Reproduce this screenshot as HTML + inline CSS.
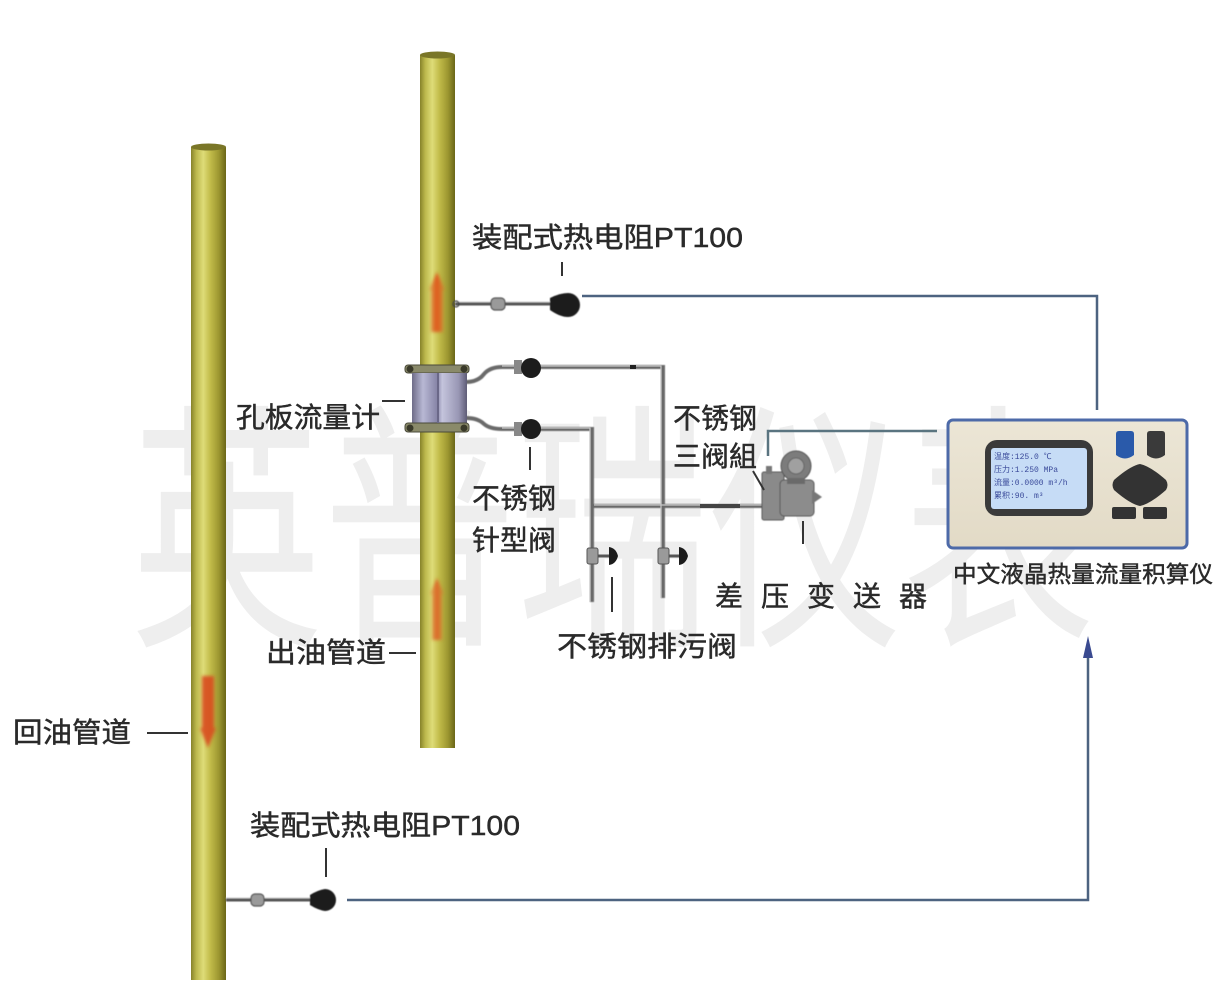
<!DOCTYPE html>
<html><head><meta charset="utf-8">
<style>
html,body{margin:0;padding:0;background:#fff;}
body{width:1231px;height:984px;overflow:hidden;}
svg{display:block;}
.lb{font-family:"Liberation Sans","Noto Sans CJK SC",sans-serif;fill:#2a2a2a;stroke:#2a2a2a;stroke-width:0.45px;font-size:28px;}
</style></head>
<body>
<svg width="1231" height="984" viewBox="0 0 1231 984" xmlns="http://www.w3.org/2000/svg">
<defs>
<linearGradient id="pipe" x1="0" y1="0" x2="1" y2="0">
<stop offset="0" stop-color="#86822a"/>
<stop offset="0.15" stop-color="#bcb84c"/>
<stop offset="0.35" stop-color="#dedc78"/>
<stop offset="0.55" stop-color="#c2bc4a"/>
<stop offset="0.8" stop-color="#9c9630"/>
<stop offset="1" stop-color="#6a6618"/>
</linearGradient>
<linearGradient id="body" x1="0" y1="0" x2="1" y2="0">
<stop offset="0" stop-color="#6e6c88"/>
<stop offset="0.2" stop-color="#b8b8d4"/>
<stop offset="0.45" stop-color="#8886a8"/>
<stop offset="0.55" stop-color="#c4c4dc"/>
<stop offset="0.85" stop-color="#9896b4"/>
<stop offset="1" stop-color="#5e5c76"/>
</linearGradient>
<linearGradient id="orange" x1="0" y1="0" x2="1" y2="0">
<stop offset="0" stop-color="#d8702a" stop-opacity="0.5"/>
<stop offset="0.5" stop-color="#e0561c"/>
<stop offset="1" stop-color="#d8702a" stop-opacity="0.5"/>
</linearGradient>
<linearGradient id="inst" x1="0" y1="0" x2="0" y2="1">
<stop offset="0" stop-color="#ece6d6"/>
<stop offset="1" stop-color="#e2dac6"/>
</linearGradient>
<filter id="blur1"><feGaussianBlur stdDeviation="1.6"/></filter>
<filter id="blur05"><feGaussianBlur stdDeviation="0.5"/></filter>
</defs>

<!-- watermark -->
<text x="130" y="626" font-family="'Noto Sans CJK SC','WenQuanYi Zen Hei',sans-serif" font-size="262" fill="#eeeeee" textLength="965" lengthAdjust="spacingAndGlyphs">英普瑞仪表</text>

<!-- signal lines -->
<g stroke="#4d6380" stroke-width="2.5" fill="none">
<polyline points="582,296 1097,296 1097,410"/>
<polyline points="347,900 1088,900 1088,655"/>
<polyline points="768,456 768,431 937,431" stroke="#5a7480"/>
</g>
<polygon points="1088,636 1083,658 1093,658" fill="#3a4a90"/>

<!-- pipes -->
<rect x="420" y="55" width="35" height="693" fill="url(#pipe)"/>
<ellipse cx="437.5" cy="55" rx="17.5" ry="3.5" fill="#7a7628"/>
<rect x="191" y="147" width="35" height="833" fill="url(#pipe)"/>
<ellipse cx="208.5" cy="147" rx="17.5" ry="3.5" fill="#7a7628"/>

<!-- flow arrows -->
<g filter="url(#blur1)">
<path d="M437,272 L445,290 L443,290 L443,332 L431,332 L431,290 L429,290 Z" fill="url(#orange)"/>
<path d="M437,578 L444,594 L442,594 L442,640 L432,640 L432,594 L430,594 Z" fill="url(#orange)" opacity="0.85"/>
<path d="M208,748 L200,728 L202,728 L202,676 L214,676 L214,728 L216,728 Z" fill="#d84a1c" opacity="0.9"/>
</g>

<!-- upper PT100 branch -->
<g filter="url(#blur05)">
<line x1="455" y1="304" x2="556" y2="304" stroke="#555" stroke-width="3"/>
<line x1="455" y1="302" x2="556" y2="302" stroke="#ccc" stroke-width="1"/>
<rect x="491" y="298" width="14" height="12" rx="4" fill="#9a9a9a" stroke="#555" stroke-width="1.2"/>
<circle cx="456" cy="304" r="3" fill="none" stroke="#444" stroke-width="1.2"/>
<path d="M550,298 Q560,293 568,293 A12,12 0 1 1 568,317 Q560,317 550,310 Z" fill="#1c1c1c"/>
</g>

<!-- lower PT100 branch -->
<g filter="url(#blur05)">
<line x1="226" y1="900" x2="312" y2="900" stroke="#555" stroke-width="3"/>
<line x1="226" y1="898" x2="312" y2="898" stroke="#ccc" stroke-width="1"/>
<rect x="251" y="894" width="13" height="12" rx="4" fill="#9a9a9a" stroke="#555" stroke-width="1.2"/>
<path d="M310,895 Q318,890 325,889 A11,11 0 1 1 325,911 Q318,910 310,905 Z" fill="#1c1c1c"/>
</g>

<!-- impulse lines -->
<g fill="none" stroke="#6a6a6a" stroke-width="4" filter="url(#blur05)">
<path d="M466,382 Q478,382 484,374 Q490,367 502,367 L663,367 L663,598"/>
<path d="M466,418 Q478,418 484,424 Q490,429 502,429 L592,429 L592,602"/>
<path d="M592,506 L765,506"/>
</g>
<g fill="none" stroke="#c8c8c8" stroke-width="1.2">
<path d="M502,366 L661,366 L661,598"/>
<path d="M502,428 L590,428 L590,602"/>
<path d="M594,505 L765,505"/>
</g>
<line x1="630" y1="367" x2="636" y2="367" stroke="#222" stroke-width="4"/>
<line x1="700" y1="506" x2="740" y2="506" stroke="#444" stroke-width="4"/>

<!-- needle valves -->
<g>
<rect x="514" y="360" width="8" height="14" fill="#888"/>
<circle cx="531" cy="368" r="10" fill="#1c1c1c"/>
<rect x="514" y="422" width="8" height="14" fill="#888"/>
<circle cx="531" cy="429" r="10" fill="#1c1c1c"/>
</g>

<!-- drain valves -->
<g>
<rect x="587" y="548" width="11" height="16" rx="2" fill="#9a9a9a" stroke="#555"/>
<line x1="598" y1="556" x2="610" y2="556" stroke="#555" stroke-width="3"/>
<path d="M609,547 Q616,548 618,556 Q616,564 609,565 Z" fill="#1c1c1c"/>
<rect x="658" y="548" width="11" height="16" rx="2" fill="#9a9a9a" stroke="#555"/>
<line x1="669" y1="556" x2="680" y2="556" stroke="#555" stroke-width="3"/>
<path d="M679,547 Q686,548 688,556 Q686,564 679,565 Z" fill="#1c1c1c"/>
</g>

<!-- orifice flow meter -->
<g>
<rect x="405" y="365" width="64" height="8" rx="3" fill="#8a8a6a" stroke="#4a4a3a"/>
<rect x="412" y="373" width="55" height="50" fill="url(#body)"/>
<rect x="405" y="423" width="64" height="9" rx="3" fill="#8a8a6a" stroke="#4a4a3a"/>
<circle cx="410" cy="369" r="3.5" fill="#3a3a2a"/>
<circle cx="464" cy="369" r="3.5" fill="#3a3a2a"/>
<circle cx="410" cy="428" r="3.5" fill="#3a3a2a"/>
<circle cx="464" cy="428" r="3.5" fill="#3a3a2a"/>
<line x1="438" y1="373" x2="438" y2="423" stroke="#6a6888" stroke-width="2"/>
</g>

<!-- three valve manifold & transmitter -->
<g filter="url(#blur05)">
<rect x="762" y="472" width="22" height="48" rx="2" fill="#8a8a8a" stroke="#555"/>
<rect x="766" y="466" width="6" height="8" fill="#777"/>
<rect x="780" y="480" width="34" height="36" rx="4" fill="#8c8c8c" stroke="#555"/>
<path d="M812,490 L822,497 L812,504 Z" fill="#777"/>
<circle cx="796" cy="466" r="15" fill="#7c7c7c" stroke="#555"/>
<circle cx="796" cy="466" r="8" fill="#a0a0a0" stroke="#666"/>
<rect x="787" y="478" width="18" height="6" fill="#6a6a6a"/>
</g>

<!-- instrument -->
<g>
<rect x="948" y="420" width="239" height="128" rx="5" fill="url(#inst)" stroke="#4d6aa8" stroke-width="3"/>
<rect x="985" y="440" width="108" height="76" rx="12" fill="#3a3a3a"/>
<rect x="991" y="448" width="96" height="61" rx="3" fill="#c6dcf6"/>
<g font-family="'Liberation Mono','Noto Sans CJK SC',monospace" font-size="8" fill="#3a4a9a">
<text x="994" y="459">温度:125.0  ℃</text>
<text x="994" y="472">压力:1.250 MPa</text>
<text x="994" y="485">流量:0.0000 m³/h</text>
<text x="994" y="498">累积:90.  m³</text>
</g>
<path d="M1116,434 Q1116,431 1119,431 L1131,431 Q1134,431 1134,434 L1134,455 Q1125,462 1116,455 Z" fill="#2a5aaa"/>
<path d="M1147,434 Q1147,431 1150,431 L1162,431 Q1165,431 1165,434 L1165,455 Q1156,462 1147,455 Z" fill="#3a3a3a"/>
<path d="M1140,464 Q1150,466 1166,480 Q1169,485 1166,490 Q1150,504 1140,506 Q1130,504 1114,490 Q1111,485 1114,480 Q1130,466 1140,464 Z" fill="#333"/>
<rect x="1112" y="507" width="24" height="12" rx="2" fill="#333"/>
<rect x="1143" y="507" width="24" height="12" rx="2" fill="#333"/>
</g>

<!-- leader ticks -->
<g stroke="#333" stroke-width="2" fill="none">
<line x1="562" y1="262" x2="562" y2="276"/>
<line x1="326" y1="848" x2="326" y2="877"/>
<line x1="382" y1="401" x2="405" y2="401"/>
<line x1="530" y1="447" x2="530" y2="470"/>
<line x1="612" y1="577" x2="612" y2="612"/>
<line x1="803" y1="521" x2="803" y2="544"/>
<line x1="753" y1="471" x2="764" y2="490"/>
<line x1="389" y1="653" x2="416" y2="653"/>
<line x1="147" y1="733" x2="188" y2="733"/>
</g>

<!-- labels -->
<text class="lb" x="472" y="247" textLength="271" lengthAdjust="spacingAndGlyphs">装配式热电阻PT100</text>
<text class="lb" x="250" y="835" textLength="270" lengthAdjust="spacingAndGlyphs">装配式热电阻PT100</text>
<text class="lb" x="236" y="427" textLength="144" lengthAdjust="spacingAndGlyphs">孔板流量计</text>
<text class="lb" x="472" y="508">不锈钢</text>
<text class="lb" x="472" y="550">针型阀</text>
<text class="lb" x="673" y="428">不锈钢</text>
<text class="lb" x="673" y="466">三阀組</text>
<text class="lb" x="557" y="656" textLength="180" lengthAdjust="spacingAndGlyphs">不锈钢排污阀</text>
<text class="lb" x="715" y="606" textLength="212" lengthAdjust="spacing">差压变送器</text>
<text class="lb" x="266" y="662" textLength="120" lengthAdjust="spacingAndGlyphs">出油管道</text>
<text class="lb" x="13" y="742" textLength="118" lengthAdjust="spacingAndGlyphs">回油管道</text>
<text class="lb" x="953" y="582" textLength="260" lengthAdjust="spacingAndGlyphs" style="font-size:23px">中文液晶热量流量积算仪</text>
</svg>
</body></html>
